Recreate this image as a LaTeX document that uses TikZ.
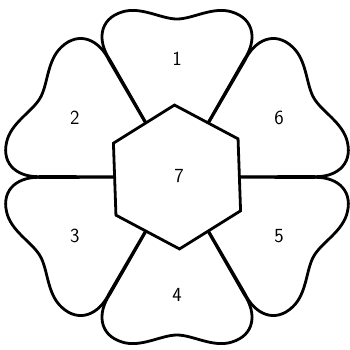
\documentclass[tikz,border=0pt]{standalone}
\usepackage{tikz}
\usetikzlibrary{positioning}

\begin{document}
\begin{tikzpicture}[x=1pt, y=1pt,
    petal/.style={draw=black, fill=white, line width=2.8pt, line join=round},
    hexbox/.style={draw=black, fill=white, line width=2.8pt, line join=miter},
    numlabel/.style={font=\sffamily\fontsize{20}{24}\selectfont, text=black}]

  \useasboundingbox (-177,-172) rectangle (173,177);

  %% ===== PETALS =====
  % one heart-shaped petal, turned to each direction
  \foreach \ang/\num in {90/1, 30/6, -30/5, -90/4, 210/3, 150/2}{
    \draw[petal, rotate=\ang-90]
      (0,0) -- (-67,117)
      .. controls (-80,136) and (-78,158) .. (-55,165)
      .. controls (-36,171) and (-16,158) .. (0,158)
      .. controls (16,158) and (36,171) .. (55,165)
      .. controls (78,158) and (80,136) .. (67,117)
      -- cycle;
    \node[numlabel] (petal\num) at (\ang:118) {\num};
  }

  %% ===== CENTRE HEXAGON =====
  \draw[hexbox] (92:72) -- (32:72) -- (-28:72) -- (-88:72)
    -- (212:72) -- (152:72) -- cycle;
  \node[numlabel] (hub) at (2,1) {7};

\end{tikzpicture}
\end{document}
